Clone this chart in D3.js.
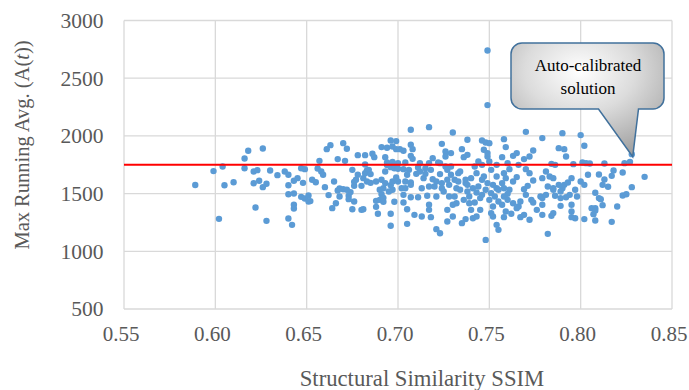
<!DOCTYPE html>
<html>
<head>
<meta charset="utf-8">
<script src="https://cdn.jsdelivr.net/npm/d3@7"></script>
<style>
  body { margin: 0; background: #fff; }
  svg text { font-family: "Liberation Serif", "Times New Roman", serif; }
</style>
</head>
<body>
<div id="chart"></div>
<script>
// SSIM vs max running average, one entry per run: [ssim, maxRunningAvg]
const runs = [
  [0.589,1575],[0.599,1695],[0.602,1281],[0.604,1735],[0.605,1573],[0.610,1599],[0.616,1804],[0.618,1871],
  [0.616,1720],[0.621,1691],[0.621,1590],[0.622,1380],[0.623,1703],[0.624,1611],[0.626,1556],[0.626,1891],
  [0.628,1585],[0.628,1264],[0.630,1700],[0.634,1660],[0.638,1691],[0.640,1573],[0.640,1663],[0.640,1284],
  [0.640,1495],[0.642,1229],[0.643,1501],[0.643,1403],[0.643,1371],[0.643,1611],[0.645,1634],[0.647,1720],
  [0.648,1593],[0.647,1472],[0.649,1458],[0.649,1712],[0.651,1484],[0.651,1431],
  [0.652,1435],[0.653,1620],[0.655,1599],[0.656,1718],[0.657,1784],[0.658,1692],[0.659,1663],[0.660,1556],
  [0.661,1885],[0.663,1920],[0.662,1487],[0.664,1374],[0.665,1605],[0.666,1417],[0.667,1799],[0.667,1527],
  [0.668,1544],[0.670,1538],[0.668,1475],[0.670,1937],[0.672,1888],[0.671,1784],[0.672,1533],[0.673,1481],
  [0.674,1513],[0.673,1452],[0.675,1706],[0.675,1365],[0.676,1567],[0.676,1432],[0.676,1602],[0.677,1620],
  [0.678,1833],[0.678,1663],[0.680,1567],[0.680,1359],[0.681,1365],[0.681,1634],[0.682,1752],[0.682,1833],
  [0.682,1677],[0.683,1700],[0.683,1605],[0.684,1706],[0.685,1669],[0.685,1593],[0.686,1845],[0.687,1816],
  [0.688,1605],[0.688,1437],[0.688,1385],[0.689,1325],[0.690,1446],[0.691,1903],[0.691,1620],[0.690,1533],
  [0.691,1495],[0.692,1463],[0.692,1547],[0.692,1429],[0.693,1591],[0.693,1692],[0.693,1816],[0.694,1747],
  [0.694,1770],[0.694,1897],[0.695,1518],[0.695,1755],[0.696,1573],[0.696,1221],[0.696,1729],[0.696,1960],
  [0.696,1325],[0.697,1775],[0.697,1908],[0.697,1533],[0.697,1605],[0.698,1429],[0.698,1720],[0.698,1749],
  [0.699,1640],[0.699,1955],[0.700,1764],[0.700,1715],[0.699,1885],[0.700,1605],[0.701,1885],
  [0.707,2053],[0.717,2076],[0.730,2030],[0.703,1871],[0.707,1923],[0.708,1885],[0.707,1827],[0.708,1801],
  [0.704,1770],[0.703,1712],[0.706,1706],[0.705,1663],[0.704,1605],[0.702,1547],[0.704,1547],[0.707,1596],
  [0.707,1576],[0.703,1489],[0.703,1423],[0.705,1365],[0.707,1469],[0.705,1238],[0.709,1316],[0.711,1469],
  [0.710,1671],[0.711,1726],[0.712,1764],[0.712,1692],[0.713,1547],[0.713,1302],[0.714,1634],[0.715,1720],
  [0.715,1671],[0.716,1481],[0.717,1764],[0.717,1403],[0.717,1359],[0.717,1562],[0.718,1706],[0.718,1296],
  [0.719,1807],[0.719,1625],[0.720,1562],[0.721,1605],[0.721,1192],[0.721,1475],[0.722,1770],[0.723,1669],
  [0.723,1157],[0.723,1764],[0.724,1931],[0.724,1547],[0.724,1591],[0.725,1518],[0.726,1865],[0.726,1822],
  [0.726,1735],[0.727,1620],[0.727,1706],[0.727,1258],[0.727,1359],[0.728,1475],[0.728,1576],[0.729,1735],
  [0.729,1851],[0.729,1663],[0.730,1403],[0.730,1302],[0.731,1475],[0.731,1620],[0.732,1417],[0.732,1547],
  [0.733,1677],[0.733,1605],[0.734,1692],[0.734,1533],[0.735,1885],[0.735,1244],[0.736,1446],[0.736,1816],
  [0.737,1591],[0.737,1279],[0.737,1620],[0.738,1836],[0.738,1576],[0.738,1966],[0.738,1518],[0.739,1417],
  [0.739,1475],[0.740,1359],[0.740,1634],[0.741,1547],[0.741,1287],[0.742,1423],[0.742,1735],[0.743,1510],
  [0.743,1677],[0.743,1302],[0.744,1778],[0.744,1562],[0.745,1359],[0.745,1461],[0.746,1620],[0.746,1749],
  [0.746,1489],[0.746,1960],[0.747,1880],[0.747,1648],[0.748,1099],[0.748,1533],[0.748,1943],[0.749,1822],
  [0.749,1591],[0.749,1851],[0.750,1778],[0.750,1937],[0.750,1446],[0.751,1331],[0.751,1504],[0.751,1706],
  [0.752,1576],[0.752,1302],[0.752,1388],[0.753,1475],[0.754,1547],[0.754,1749],[0.754,1229],[0.754,1648],
  [0.755,1432],[0.755,1186],[0.755,1533],[0.749,2740],[0.749,2267],
  [0.758,1972],[0.770,2035],[0.779,1981],[0.790,2024],[0.800,2007],[0.759,1903],[0.757,1816],[0.763,1827],
  [0.765,1851],[0.772,1822],[0.774,1874],[0.788,1894],[0.791,1885],[0.792,1822],[0.802,1914],[0.803,1764],
  [0.760,1764],[0.766,1749],[0.769,1799],[0.784,1758],[0.786,1749],[0.796,1755],[0.801,1770],[0.761,1712],
  [0.770,1712],[0.772,1677],[0.781,1692],[0.783,1648],[0.785,1634],[0.758,1677],[0.759,1634],[0.765,1643],
  [0.763,1605],[0.757,1591],[0.758,1547],[0.761,1533],[0.760,1498],[0.769,1538],[0.771,1567],[0.774,1614],
  [0.779,1634],[0.782,1562],[0.785,1547],[0.785,1533],[0.788,1576],[0.790,1547],[0.791,1576],[0.793,1596],
  [0.795,1634],[0.800,1605],[0.804,1663],[0.802,1576],[0.758,1475],[0.760,1446],[0.757,1403],[0.763,1417],
  [0.766,1388],[0.767,1432],[0.770,1489],[0.773,1446],[0.774,1423],[0.778,1475],[0.779,1461],[0.779,1403],
  [0.781,1489],[0.786,1481],[0.789,1518],[0.789,1461],[0.792,1469],[0.794,1489],[0.795,1403],[0.797,1533],
  [0.798,1475],[0.759,1345],[0.762,1325],[0.758,1296],[0.765,1374],[0.767,1296],[0.769,1316],[0.772,1273],
  [0.776,1359],[0.779,1316],[0.784,1307],[0.785,1331],[0.789,1394],[0.795,1345],[0.795,1296],[0.797,1287],
  [0.802,1279],[0.782,1151],
  [0.805,1761],[0.813,1761],[0.824,1764],[0.827,1775],[0.828,1842],[0.810,1666],[0.813,1622],[0.812,1576],
  [0.815,1559],[0.817,1654],[0.818,1700],[0.823,1683],[0.835,1645],[0.828,1556],[0.808,1507],[0.810,1461],
  [0.811,1452],[0.812,1400],[0.823,1484],[0.825,1495],[0.820,1388],[0.806,1374],[0.808,1374],[0.808,1354],
  [0.807,1322],[0.808,1267],[0.817,1255]
];

const threshold = 1750;
const xTicks = [0.55, 0.60, 0.65, 0.70, 0.75, 0.80, 0.85];
const yTicks = [500, 1000, 1500, 2000, 2500, 3000];
const calloutLines = ['Auto-calibrated', 'solution'];

const width = 689;
const height = 390;
const plot = { left: 124, right: 672, top: 20.5, bottom: 309 };
const serif = '"Liberation Serif", "Times New Roman", serif';

const svg = d3.select('#chart')
  .append('svg')
  .attr('width', width)
  .attr('height', height);

const x = d3.scaleLinear().domain([0.55, 0.85]).range([plot.left, plot.right]);
const y = d3.scaleLinear().domain([500, 3000]).range([plot.bottom, plot.top]);

// grid
svg.append('g')
  .selectAll('line')
  .data(yTicks)
  .join('line')
  .attr('x1', plot.left)
  .attr('x2', plot.right)
  .attr('y1', (d) => y(d))
  .attr('y2', (d) => y(d))
  .attr('stroke', '#d9d9d9')
  .attr('stroke-width', 1.3);

svg.append('g')
  .selectAll('line')
  .data(xTicks)
  .join('line')
  .attr('x1', (d) => x(d))
  .attr('x2', (d) => x(d))
  .attr('y1', plot.top)
  .attr('y2', plot.bottom)
  .attr('stroke', '#d9d9d9')
  .attr('stroke-width', 1.3);

// axes (labels only, lines come from the grid)
svg.append('g')
  .attr('transform', `translate(${plot.left},0)`)
  .call(d3.axisLeft(y).tickValues(yTicks).tickSize(0).tickPadding(20.5).tickFormat(d3.format('d')))
  .call((g) => g.select('.domain').remove())
  .call((g) => g.selectAll('text')
    .attr('fill', '#595959')
    .style('font-size', '21.5px')
    .style('font-family', serif));

svg.append('g')
  .attr('transform', `translate(0,${plot.bottom})`)
  .call(d3.axisBottom(x).tickValues(xTicks).tickSize(0).tickPadding(17.5).tickFormat(d3.format('.2f')))
  .call((g) => g.select('.domain').remove())
  .call((g) => g.selectAll('text')
    .attr('dx', -3.5)
    .attr('fill', '#595959')
    .style('font-size', '21px')
    .style('font-family', serif));

// points
svg.append('g')
  .selectAll('circle')
  .data(runs)
  .join('circle')
  .attr('cx', (d) => x(d[0]))
  .attr('cy', (d) => y(d[1]))
  .attr('r', 3.2)
  .attr('fill', '#5b9bd5');

// reference line
svg.append('line')
  .attr('x1', plot.left)
  .attr('x2', plot.right)
  .attr('y1', y(threshold))
  .attr('y2', y(threshold))
  .attr('stroke', '#ff0000')
  .attr('stroke-width', 2);

// axis titles
const yTitle = svg.append('text')
  .attr('transform', 'translate(29,145) rotate(-90)')
  .attr('text-anchor', 'middle')
  .attr('fill', '#595959')
  .style('font-size', '20.5px');
yTitle.append('tspan').text('Max Running Avg. (A(');
yTitle.append('tspan').style('font-style', 'italic').text('t');
yTitle.append('tspan').text('))');

svg.append('text')
  .attr('x', 422)
  .attr('y', 385.5)
  .attr('text-anchor', 'middle')
  .attr('fill', '#595959')
  .style('font-size', '22.7px')
  .text('Structural Similarity SSIM');

// callout
const defs = svg.append('defs');
const grad = defs.append('radialGradient')
  .attr('id', 'calloutFill')
  .attr('cx', '45%')
  .attr('cy', '25%')
  .attr('r', '80%');
grad.append('stop').attr('offset', '0%').attr('stop-color', '#ffffff');
grad.append('stop').attr('offset', '45%').attr('stop-color', '#dcdcdc');
grad.append('stop').attr('offset', '100%').attr('stop-color', '#9e9e9e');

const box = { x0: 511, x1: 664, y0: 43, y1: 109, r: 11 };
const tail = { left: 598.5, right: 638.5, tipX: x(0.8285), tipY: y(1820) };
const p = d3.path();
p.moveTo(box.x0 + box.r, box.y0);
p.lineTo(box.x1 - box.r, box.y0);
p.arcTo(box.x1, box.y0, box.x1, box.y0 + box.r, box.r);
p.lineTo(box.x1, box.y1 - box.r);
p.arcTo(box.x1, box.y1, box.x1 - box.r, box.y1, box.r);
p.lineTo(tail.right, box.y1);
p.lineTo(tail.tipX, tail.tipY);
p.lineTo(tail.left, box.y1);
p.lineTo(box.x0 + box.r, box.y1);
p.arcTo(box.x0, box.y1, box.x0, box.y1 - box.r, box.r);
p.lineTo(box.x0, box.y0 + box.r);
p.arcTo(box.x0, box.y0, box.x0 + box.r, box.y0, box.r);
p.closePath();

svg.append('path')
  .attr('d', p.toString())
  .attr('fill', 'url(#calloutFill)')
  .attr('stroke', '#41719c')
  .attr('stroke-width', 1.5);

svg.append('g')
  .selectAll('text')
  .data(calloutLines)
  .join('text')
  .attr('x', 588)
  .attr('y', (d, i) => 71 + i * 23)
  .attr('text-anchor', 'middle')
  .attr('fill', '#000')
  .style('font-size', '17px')
  .text((d) => d);
</script>
</body>
</html>
